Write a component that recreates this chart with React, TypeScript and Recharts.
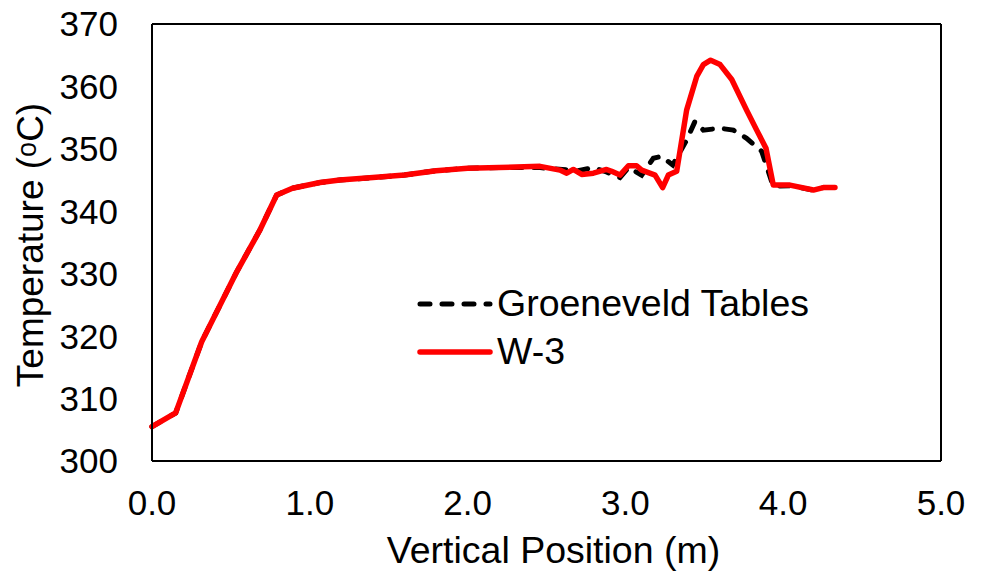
import { Line, LineChart, ReferenceLine, XAxis, YAxis } from 'recharts'

const groeneveldX = [0, 0.15, 0.315, 0.537, 0.684, 0.79, 0.89, 1.065, 1.19, 1.4, 1.6, 1.8, 2.0, 2.2, 2.46, 2.6, 2.7, 2.797, 2.88, 2.966, 3.02, 3.103, 3.177, 3.23, 3.3, 3.388, 3.441, 3.494, 3.6, 3.684, 3.768, 3.864, 3.937, 4.043, 4.191, 4.254]
const groeneveldT = [305.5, 307.7, 319.1, 330.3, 337.0, 342.6, 343.7, 344.6, 345.0, 345.4, 345.8, 346.5, 346.9, 347.0, 347.0, 346.7, 346.5, 347.0, 346.3, 345.4, 347.0, 345.8, 348.5, 348.8, 347.4, 351.4, 354.4, 353.0, 353.3, 353.0, 351.7, 349.6, 344.0, 344.1, 343.4, 343.8]

const w3X = [0, 0.15, 0.315, 0.537, 0.684, 0.79, 0.89, 1.065, 1.19, 1.4, 1.6, 1.8, 2.0, 2.2, 2.459, 2.585, 2.628, 2.67, 2.723, 2.797, 2.881, 2.913, 2.966, 3.019, 3.071, 3.103, 3.188, 3.236, 3.272, 3.325, 3.388, 3.452, 3.494, 3.54, 3.6, 3.674, 3.768, 3.832, 3.891, 3.937, 4.043, 4.191, 4.254, 4.328]
const w3T = [305.5, 307.7, 319.1, 330.3, 337.0, 342.6, 343.7, 344.6, 345.0, 345.4, 345.8, 346.5, 346.9, 347.0, 347.2, 346.6, 346.1, 346.7, 345.9, 346.1, 346.7, 346.4, 345.8, 347.3, 347.3, 346.6, 345.8, 343.8, 345.8, 346.4, 356.2, 361.6, 363.5, 364.2, 363.5, 361.1, 356.2, 353.0, 350.1, 344.2, 344.2, 343.4, 343.8, 343.8]

const xTicks = [0, 1, 2, 3, 4, 5]
const yTicks = [300, 310, 320, 330, 340, 350, 360, 370]

const FONT = '"Liberation Sans", Arial, sans-serif'

const groeneveldData = groeneveldX.map((x, i) => ({ x, t: groeneveldT[i] }))
const w3Data = w3X.map((x, i) => ({ x, t: w3T[i] }))

export default function App() {
  const tickStyle = { fontSize: 35, fontFamily: FONT, fill: '#000' }
  return (
    <div style={{ position: 'absolute', left: 0, top: 0, width: 982, height: 573, background: '#fff' }}>
      <LineChart width={982} height={573} margin={{ top: 24, right: 41, bottom: 0, left: 52 }}>
        <XAxis
          type="number"
          dataKey="x"
          domain={[0, 5]}
          ticks={xTicks}
          tickFormatter={(v: number) => v.toFixed(1)}
          tickLine={false}
          tickSize={0}
          tickMargin={29}
          height={112}
          axisLine={{ stroke: '#000', strokeWidth: 2 }}
          tick={tickStyle}
          allowDuplicatedCategory={false}
          label={{ value: 'Vertical Position (m)', position: 'insideBottom', offset: 10, dx: 7, fontSize: 37.5, fontFamily: FONT, fill: '#000' }}
        />
        <YAxis
          type="number"
          dataKey="t"
          domain={[300, 370]}
          ticks={yTicks}
          tickLine={false}
          tickSize={0}
          tickMargin={34}
          width={100}
          axisLine={{ stroke: '#000', strokeWidth: 2 }}
          tick={tickStyle}
        />
        <ReferenceLine y={370} stroke="#000" strokeWidth={2} />
        <ReferenceLine x={5} stroke="#000" strokeWidth={2} />
        <Line
          data={groeneveldData}
          dataKey="t"
          type="linear"
          stroke="#000"
          strokeWidth={5}
          strokeDasharray="10 12"
          strokeLinecap="round"
          dot={false}
          isAnimationActive={false}
          name="Groeneveld Tables"
        />
        <Line
          data={w3Data}
          dataKey="t"
          type="linear"
          stroke="#ff0000"
          strokeWidth={5.5}
          strokeLinejoin="round"
          strokeLinecap="round"
          dot={false}
          isAnimationActive={false}
          name="W-3"
        />
      </LineChart>
      <svg width={982} height={573} style={{ position: 'absolute', left: 0, top: 0, pointerEvents: 'none' }}>
        <text
          x={30}
          y={245}
          transform="rotate(-90 30 245)"
          textAnchor="middle"
          dominantBaseline="central"
          fontSize={37}
          fontFamily={FONT}
          fill="#000"
        >
          Temperature (<tspan fontSize={27} dy={-3}>o</tspan><tspan dy={3}>C)</tspan>
        </text>
        <line x1={420} y1={304} x2={490} y2={304} stroke="#000" strokeWidth={5} strokeDasharray="10 12" strokeLinecap="round" />
        <text x={497} y={316} fontSize={37.5} fontFamily={FONT} fill="#000">Groeneveld Tables</text>
        <line x1={420} y1={352} x2={490} y2={352} stroke="#ff0000" strokeWidth={5.5} strokeLinecap="round" />
        <text x={497} y={364} fontSize={37.5} fontFamily={FONT} fill="#000">W-3</text>
      </svg>
    </div>
  )
}
